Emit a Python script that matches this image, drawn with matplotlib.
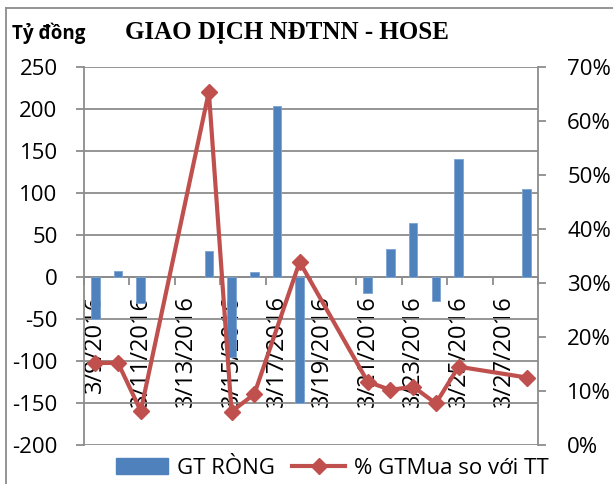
import matplotlib
matplotlib.use("Agg")
import matplotlib.pyplot as plt
from matplotlib.lines import Line2D
from matplotlib.patches import Patch
import numpy as np

plt.rcParams['font.family'] = ['Open Sans', 'DejaVu Sans']
plt.rcParams['axes.unicode_minus'] = False

dates = ['3/9/2016', '3/10/2016', '3/11/2016', '3/12/2016', '3/13/2016',
         '3/14/2016', '3/15/2016', '3/16/2016', '3/17/2016', '3/18/2016',
         '3/19/2016', '3/20/2016', '3/21/2016', '3/22/2016', '3/23/2016',
         '3/24/2016', '3/25/2016', '3/26/2016', '3/27/2016', '3/28/2016']
gt_rong = [-50, 7, -31, np.nan, np.nan, 31, -95, 6, 204, -150,
           np.nan, np.nan, -19, 33, 64, -28, 140, np.nan, np.nan, 105]
pct_mua = [15.2, 15.2, 6.3, np.nan, np.nan, 65.4, 6.2, 9.4, np.nan, 33.9,
           np.nan, np.nan, 11.7, 10.2, 10.8, 7.7, 14.5, np.nan, np.nan, 12.5]

BLUE = '#4F81BD'
RED = '#C0504D'
GRAY = '#8C8C8C'
FS = 16

fig = plt.figure(figsize=(6.13, 4.84), dpi=100)
ax = fig.add_axes([84/613, 1-445/484, (538-84)/613, (445-67)/484])
ax2 = ax.twinx()

x = np.arange(len(dates))
ax.bar(x, gt_rong, width=0.38, color=BLUE, edgecolor='#7DA3D3', linewidth=0.6, zorder=3)

pm = np.array(pct_mua) / 100
ok = ~np.isnan(pm)
ax2.plot(x[ok], pm[ok], color=RED, lw=3, marker='D', markersize=8,
         markeredgecolor=RED, zorder=4)

# left axis
ax.set_ylim(-200, 250)
ax.set_yticks(np.arange(-200, 251, 50))
ax.set_xlim(-0.5, len(dates) - 0.5)
ax.grid(axis='y', color=GRAY, lw=1.3, zorder=0)
ax.set_axisbelow(True)
for s in ['top', 'right']:
    ax.spines[s].set_visible(False)
ax.spines['left'].set_color(GRAY)
ax.spines['left'].set_linewidth(1.3)
ax.spines['bottom'].set_position(('data', 0))
ax.spines['bottom'].set_color(GRAY)
ax.spines['bottom'].set_linewidth(1.3)
ax.tick_params(axis='y', direction='out', length=6, width=1.3, color=GRAY,
               labelsize=FS, pad=13)

ax.set_xticks(x[::2])
ax.set_xticklabels(dates[::2], rotation=90, va='top', ha='center')
ax.set_xticks(np.arange(-0.5, len(dates), 2), minor=True)
ax.tick_params(axis='x', which='major', length=0, labelsize=17, pad=13)
ax.tick_params(axis='x', which='minor', direction='out', length=6, width=1.3, color=GRAY)

# right axis
ax2.set_ylim(0, 0.7)
ax2.set_yticks(np.arange(0, 0.71, 0.1))
ax2.set_yticklabels([f'{int(round(v*100))}%' for v in np.arange(0, 0.71, 0.1)])
for s in ['top', 'left', 'bottom']:
    ax2.spines[s].set_visible(False)
ax2.spines['right'].set_color(GRAY)
ax2.spines['right'].set_linewidth(1.3)
ax2.tick_params(axis='y', direction='out', length=6, width=1.3, color=GRAY,
                labelsize=FS, pad=15)

# titles
fig.text(12/613, 1-33/484, 'Tỷ đồng', fontsize=13.5, fontweight='bold', va='center', ha='left')
fig.text(287/613, 1-33/484, 'GIAO DỊCH NĐTNN - HOSE', fontsize=18, fontweight='bold',
         family='Liberation Serif', va='center', ha='center')

# legend
handles = [Patch(facecolor=BLUE, edgecolor=BLUE),
           Line2D([], [], color=RED, lw=3, marker='D', markersize=8)]
fig.legend(handles, ['GT RÒNG', '% GTMua so với TT'], loc='center',
           bbox_to_anchor=(332/613, 1-468/484), ncol=2, frameon=False,
           fontsize=FS, handlelength=2.35, handletextpad=0.4, columnspacing=0.8)

# outer border
fig.add_artist(Line2D([6/613, 6/613], [0, 1-8/484], color=GRAY, lw=1.3))
fig.add_artist(Line2D([6/613, 1], [1-8/484, 1-8/484], color=GRAY, lw=1.3))

fig.savefig('out.png', dpi=100)
